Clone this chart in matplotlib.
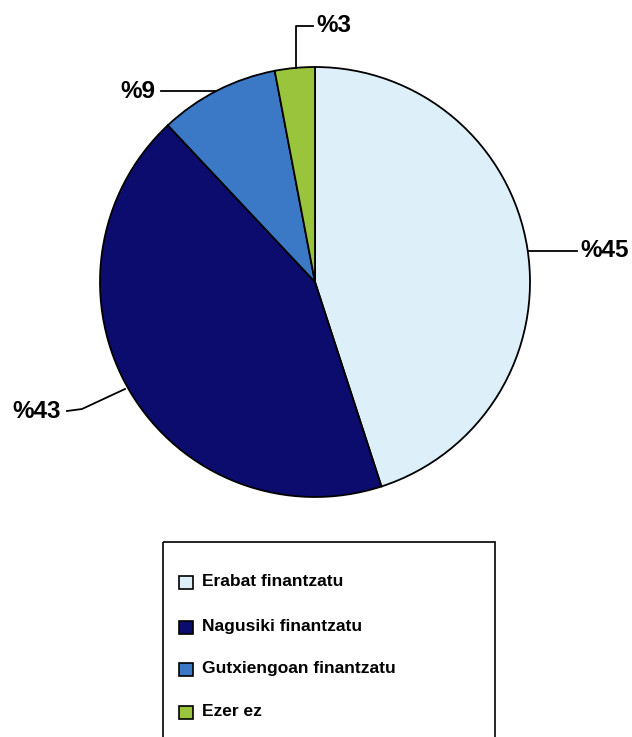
import matplotlib
matplotlib.use("Agg")
import matplotlib.pyplot as plt
from matplotlib.patches import Rectangle

categories = ["Erabat finantzatu", "Nagusiki finantzatu", "Gutxiengoan finantzatu", "Ezer ez"]
values = [45, 43, 9, 3]
labels = ["%45", "%43", "%9", "%3"]
colors = ["#ddeff8", "#0b0c6e", "#3b78c6", "#9ac43c"]

plt.rcParams['font.family'] = ['Liberation Sans', 'DejaVu Sans']

W, H = 632, 737
fig = plt.figure(figsize=(W / 100, H / 100), dpi=100)
fig.patch.set_facecolor("white")

# pie axes: center (315,282) px, radius 215 px
cx, cy, r = 315, 282, 215
ax = fig.add_axes([(cx - r) / W, (H - cy - r) / H, 2 * r / W, 2 * r / H])
ax.pie(values, colors=colors, startangle=90, counterclock=False,
       wedgeprops=dict(edgecolor="black", linewidth=1.3), radius=1.0)
ax.set_xlim(-1, 1)
ax.set_ylim(-1, 1)
ax.set_aspect("equal")
ax.axis("off")

def d(px, py):
    return ((px - cx) / r, (cy - py) / r)

fs = 17.5
lw = 1.3
# %45
ax.plot(*zip(d(529, 251), d(577, 251)), color="black", lw=lw, clip_on=False)
ax.text(*d(580, 251), labels[0], fontsize=fs, fontweight="bold", ha="left", va="center")
# %43
ax.plot(*zip(d(67, 411), d(82, 409), d(125, 389)), color="black", lw=lw, clip_on=False)
ax.text(*d(61, 411), labels[1], fontsize=fs, fontweight="bold", ha="right", va="center")
# %9
ax.plot(*zip(d(161, 91), d(216, 91)), color="black", lw=lw, clip_on=False)
ax.text(*d(155, 92), labels[2], fontsize=fs, fontweight="bold", ha="right", va="center")
# %3
ax.plot(*zip(d(296, 68), d(296, 26), d(313, 26)), color="black", lw=lw, clip_on=False)
ax.text(*d(316, 26), labels[3], fontsize=fs, fontweight="bold", ha="left", va="center")

# legend overlay in pixel coordinates
lg = fig.add_axes([0, 0, 1, 1])
lg.set_xlim(0, W)
lg.set_ylim(H, 0)
lg.axis("off")
lg.patch.set_alpha(0)
lg.add_patch(Rectangle((163, 542), 332, 240, facecolor="none", edgecolor="black", lw=1.2, clip_on=False))
rows_y = [582, 627, 669, 712]
for cat, col, yy in zip(categories, colors, rows_y):
    lg.add_patch(Rectangle((179, yy - 6), 14, 13, facecolor=col, edgecolor="black", lw=1.2))
    lg.text(202, yy, cat, fontsize=12.5, fontweight="bold", ha="left", va="center")

fig.savefig("out.png", dpi=100, facecolor="white")
